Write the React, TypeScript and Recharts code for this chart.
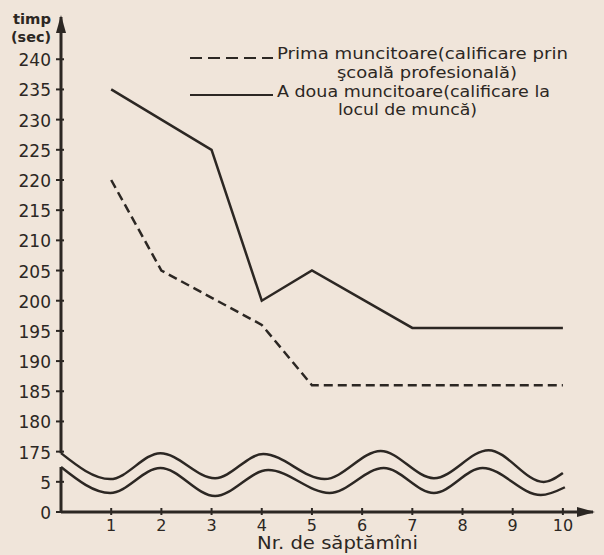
import { LineChart, Line, XAxis, YAxis, ReferenceLine, ReferenceDot, Legend } from "recharts";

const ink = "#2c2723";
const paper = "#f0e5da";

// x axis: weeks
const xTicks = [1, 2, 3, 4, 5, 6, 7, 8, 9, 10];
const xTickLabels = ["1", "2", "3", "4", "5", "6", "7", "8", "9", "10"];

// broken y axis: drawn positions 0,5 then 10..75 stand for 175..240 sec
const yTicks = [0, 5, 10, 15, 20, 25, 30, 35, 40, 45, 50, 55, 60, 65, 70, 75];
const yTickLabels = ["0", "5", "175", "180", "185", "190", "195", "200", "205", "210", "215", "220", "225", "230", "235", "240"];

// Prima muncitoare (dashed) - only the corner points
const primaWeeks = [1, 2, 4, 5, 10];
const primaTimes = [220, 205, 196, 186, 186];

// A doua muncitoare (solid)
const aDouaWeeks = [1, 3, 4, 5, 7, 10];
const aDouaTimes = [235, 225, 200, 205, 195.5, 195.5];

// the wavy axis break (drawn units)
const waveTopX = [0, 0.98, 1.98, 3.07, 4.03, 5.25, 6.37, 7.43, 8.52, 9.62, 10];
const waveTopY = [9.75, 5.45, 9.75, 5.6, 9.6, 5.45, 10.1, 5.6, 10.25, 4.96, 6.45];
const waveLowX = [0, 0.98, 1.98, 3.07, 4.13, 5.35, 6.43, 7.43, 8.4, 9.56, 10.04];
const waveLowY = [7.45, 3.15, 7.3, 2.65, 6.95, 3.15, 7.3, 3.15, 7.3, 2.8, 4.1];

const toAxis = (sec: number) => (sec >= 175 ? sec - 165 : sec);

const primaData = primaWeeks.map((w, i) => ({ week: w, v: toAxis(primaTimes[i]) }));
const aDouaData = aDouaWeeks.map((w, i) => ({ week: w, v: toAxis(aDouaTimes[i]) }));
const waveTop = waveTopX.map((w, i) => ({ week: w, v: waveTopY[i] }));
const waveLow = waveLowX.map((w, i) => ({ week: w, v: waveLowY[i] }));

const tickFont = "'DejaVu Sans', sans-serif";

const XTick = ({ x, y, index }: any) => (
  <g>
    <line x1={x} x2={x} y1={y - 4} y2={y + 3} stroke={ink} strokeWidth={2} />
    <text x={x} y={y + 13} textAnchor="middle" dominantBaseline="central" fontFamily={tickFont} fontSize={16} fill={ink}>
      {xTickLabels[index]}
    </text>
  </g>
);

const YTick = ({ x, y, index }: any) => (
  <g>
    <line x1={x - 5} x2={x + 3} y1={y} y2={y} stroke={ink} strokeWidth={2} />
    <text x={x - 10} y={y + 1} textAnchor="end" dominantBaseline="central" fontFamily={tickFont} fontSize={17} fill={ink}>
      {yTickLabels[index]}
    </text>
  </g>
);

const YTitle = () => (
  <g fontFamily={tickFont} fontSize={14} fontWeight="bold" fill={ink}>
    <text x={13} y={24} textLength={38} lengthAdjust="spacingAndGlyphs">timp</text>
    <text x={11} y={42} textLength={40} lengthAdjust="spacingAndGlyphs">(sec)</text>
  </g>
);

const XTitle = () => (
  <text x={257} y={549} fontFamily={tickFont} fontSize={17} fill={ink} textLength={161} lengthAdjust="spacingAndGlyphs">
    Nr. de săptămîni
  </text>
);

const LegendBox = () => (
  <svg width={604} height={130} style={{ display: "block" }}>
    <g fontFamily="'DejaVu Sans Condensed', 'DejaVu Sans', sans-serif" fontSize={16} fill={ink}>
      <line x1={190} x2={273} y1={58} y2={58} stroke={ink} strokeWidth={2} strokeDasharray="12 6" />
      <text x={277} y={59} textLength={291} lengthAdjust="spacingAndGlyphs">Prima muncitoare(calificare prin</text>
      <text x={337} y={78} textLength={180} lengthAdjust="spacingAndGlyphs">şcoală profesională)</text>
      <line x1={190} x2={273} y1={95} y2={95} stroke={ink} strokeWidth={2} />
      <text x={277} y={97} textLength={273} lengthAdjust="spacingAndGlyphs">A doua muncitoare(calificare la</text>
      <text x={338} y={115} textLength={139} lengthAdjust="spacingAndGlyphs">locul de muncă)</text>
    </g>
  </svg>
);

const arrowRight = ({ cx, cy }: any) => (
  <path d={`M${cx + 2},${cy} L${cx - 16},${cy - 5} L${cx - 16},${cy + 5} Z`} fill={ink} />
);
const arrowUp = ({ cx, cy }: any) => (
  <path d={`M${cx},${cy - 2} L${cx - 5},${cy + 16} L${cx + 5},${cy + 16} Z`} fill={ink} />
);

export default function App() {
  return (
    <div style={{ position: "absolute", left: 0, top: 0, width: 604, height: 555, background: paper }}>
      <LineChart width={604} height={555} margin={{ top: 17, right: 11, bottom: 0, left: 0 }}>
        <XAxis
          dataKey="week"
          type="number"
          domain={[0, 10.6]}
          ticks={xTicks}
          interval={0}
          height={43}
          tickSize={0}
          tickMargin={0}
          tick={<XTick />}
          tickLine={false}
          axisLine={{ stroke: ink, strokeWidth: 3 }}
          label={<XTitle />}
        />
        <YAxis
          type="number"
          domain={[0, 82]}
          ticks={yTicks}
          interval={0}
          width={61}
          tickSize={0}
          tickMargin={0}
          tick={<YTick />}
          tickLine={false}
          axisLine={false}
          label={<YTitle />}
        />
        <Legend
          layout="horizontal"
          verticalAlign="middle"
          align="center"
          content={<LegendBox />}
          wrapperStyle={{ position: "absolute", left: 0, top: 0, width: 604, height: 130 }}
        />
        <ReferenceLine segment={[{ x: 0, y: 0 }, { x: 0, y: waveLowY[0] }]} stroke={ink} strokeWidth={3} ifOverflow="visible" />
        <ReferenceLine segment={[{ x: 0, y: waveTopY[0] }, { x: 0, y: 82 }]} stroke={ink} strokeWidth={3} ifOverflow="visible" />
        <ReferenceDot x={10.6} y={0} r={0} shape={arrowRight} ifOverflow="visible" />
        <ReferenceDot x={0} y={82} r={0} shape={arrowUp} ifOverflow="visible" />
        <Line data={waveTop} dataKey="v" type="monotone" stroke={ink} strokeWidth={2.5} dot={false} activeDot={false} isAnimationActive={false} legendType="none" />
        <Line data={waveLow} dataKey="v" type="monotone" stroke={ink} strokeWidth={2.5} dot={false} activeDot={false} isAnimationActive={false} legendType="none" />
        <Line data={primaData} dataKey="v" name="Prima muncitoare" type="linear" stroke={ink} strokeWidth={2.5} strokeDasharray="9 5" dot={false} activeDot={false} isAnimationActive={false} />
        <Line data={aDouaData} dataKey="v" name="A doua muncitoare" type="linear" stroke={ink} strokeWidth={2.5} dot={false} activeDot={false} isAnimationActive={false} />
      </LineChart>
    </div>
  );
}
